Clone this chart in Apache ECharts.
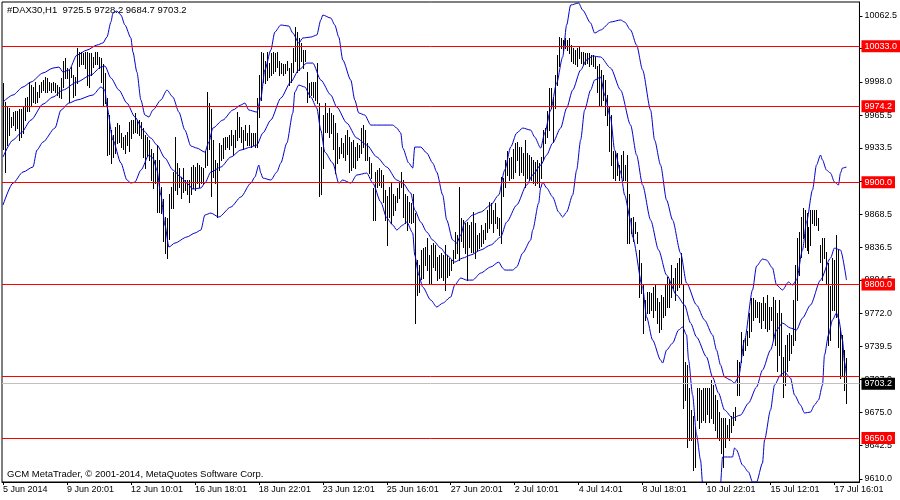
<!DOCTYPE html>
<html>
<head>
<meta charset="utf-8">
<script src="https://cdn.jsdelivr.net/npm/echarts@6/dist/echarts.min.js"></script>
<style>html,body{margin:0;padding:0;background:#fff}#c{width:900px;height:500px}</style>
</head>
<body>
<div id="c"></div>
<script>
// ---- header / quote ----
const symbolTitle = '#DAX30,H1';
const lastOHLC = [9725.5, 9728.2, 9684.7, 9703.2];
const credit = 'GCM MetaTrader, \u00a9 2001-2014, MetaQuotes Software Corp.';

// ---- x axis tick labels (bar index -> text) ----
const xTickIdx = [0, 32, 64, 96, 128, 160, 192, 224, 256, 288, 320, 352, 384, 416];
const xTickLabels = ['5 Jun 2014', '9 Jun 20:01', '12 Jun 10:01', '16 Jun 18:01', '18 Jun 22:01', '23 Jun 12:01', '25 Jun 16:01',
  '27 Jun 20:01', '2 Jul 10:01', '4 Jul 14:01', '8 Jul 18:01', '10 Jul 22:01', '15 Jul 12:01', '17 Jul 16:01'];

// ---- y axis tick labels ----
const yTickValues = [9610.0, 9642.5, 9675.0, 9707.0, 9739.5, 9772.0, 9804.5, 9836.5, 9868.5, 9901.0, 9933.5, 9965.5, 9998.0, 10030.5, 10062.5];

// ---- horizontal levels ----
const redLevels = [10033.0, 9974.2, 9900.0, 9800.0, 9650.0];
const redLevelNoLabel = 9710.0;
const bidPrice = 9703.2;

// ---- H1 bars: highs and lows ----
const barHigh = [
9997,9978,9975,9973,9964,9969,9970,9970,9972,9972,
9975,9982,9983,9998,9995,9993,9998,9988,9995,9998,
10000,10003,10002,9998,9997,9998,9997,9995,9993,10002,
10019,10021,10012,10010,10013,10005,10003,10031,10027,10027,
10026,10027,10027,10026,10026,10022,10027,10027,10022,10021,
10016,10007,9982,9966,9951,9946,9954,9958,9956,9948,
9944,9946,9949,9959,9961,9961,9968,9961,9961,9959,
9953,9946,9944,9941,9933,9929,9922,9936,9922,9895,
9884,9866,9865,9889,9895,9910,9944,9919,9914,9905,
9914,9902,9902,9902,9915,9917,9915,9919,9917,9915,
9914,9931,9988,9977,9972,9941,9922,9919,9938,9936,
9943,9944,9944,9946,9951,9946,9951,9969,9964,9954,
9951,9956,9948,9956,9948,9948,9948,9982,10005,10027,
10026,10019,10027,10017,10026,10027,10026,10027,10019,10017,
10016,10016,10019,10012,10017,10031,10052,10047,10041,10036,
10029,10029,10008,9997,9998,9998,9998,10017,9977,9934,
9966,9977,9968,9973,9968,9966,9958,9948,9934,9943,
9938,9946,9951,9944,9939,9941,9934,9938,9936,9953,
9956,9951,9938,9925,9919,9894,9910,9912,9914,9912,
9907,9892,9887,9895,9900,9889,9887,9894,9899,9910,
9902,9889,9887,9881,9880,9889,9870,9824,9819,9834,
9836,9837,9846,9829,9839,9841,9839,9827,9829,9831,
9829,9839,9829,9826,9824,9834,9851,9848,9895,9865,
9863,9860,9861,9858,9861,9871,9860,9848,9850,9858,
9853,9860,9873,9881,9880,9873,9880,9866,9865,9905,
9904,9922,9931,9924,9925,9933,9938,9939,9934,9934,
9929,9941,9929,9927,9925,9922,9920,9922,9919,9925,
9951,9953,9970,9992,9992,9983,10005,10024,10042,10041,
10039,10041,10039,10041,10034,10031,10029,10031,10032,10027,
10027,10026,10026,10026,10024,10024,10022,10014,10016,10010,
10005,10000,9985,9975,9966,9931,9931,9929,9917,9927,
9931,9917,9927,9889,9865,9866,9861,9851,9834,9821,
9801,9785,9793,9793,9792,9798,9801,9787,9783,9790,
9788,9801,9807,9804,9819,9806,9816,9821,9826,9831,
9801,9724,9721,9699,9677,9672,9661,9699,9699,9697,
9699,9699,9699,9699,9707,9702,9692,9687,9675,9670,
9670,9670,9663,9669,9672,9675,9680,9726,9724,9754,
9746,9748,9755,9772,9787,9787,9785,9783,9783,9782,
9788,9782,9790,9778,9778,9788,9785,9772,9785,9772,
9729,9741,9751,9753,9751,9785,9819,9846,9851,9866,
9875,9873,9870,9856,9873,9873,9873,9873,9865,9839,
9846,9846,9832,9821,9799,9826,9824,9848,9834,9758,
9751,9736,9728.2];
const barLow = [
9933,9910,9936,9946,9954,9956,9951,9953,9941,9944,
9948,9961,9970,9970,9975,9978,9977,9978,9983,9988,
9990,9988,9988,9990,9988,9990,9988,9985,9983,9982,
9993,10002,10002,9978,10003,9983,9985,9997,10014,10016,
10016,10012,9995,9993,10005,10013,10016,10016,10012,9998,
9975,9977,9927,9928,9919,9925,9929,9938,9939,9934,
9933,9929,9936,9931,9943,9948,9949,9948,9946,9943,
9925,9914,9926,9922,9902,9894,9899,9871,9871,9870,
9843,9831,9826,9845,9875,9875,9892,9889,9895,9885,
9890,9892,9889,9881,9889,9894,9892,9899,9895,9899,
9899,9915,9917,9933,9887,9905,9899,9866,9912,9922,
9924,9933,9934,9933,9936,9927,9934,9941,9944,9939,
9933,9941,9936,9936,9934,9936,9934,9934,9964,9980,
9998,9997,10000,10003,10005,10007,10009,10013,10005,10007,
10005,10007,10010,9995,9998,10008,10019,10008,10010,10019,
10012,10019,9978,9983,9985,9983,9980,9977,9887,9889,
9914,9949,9949,9944,9948,9933,9909,9919,9924,9929,
9925,9922,9928,9910,9912,9915,9914,9922,9925,9929,
9934,9922,9922,9909,9904,9863,9863,9895,9897,9895,
9881,9863,9839,9866,9860,9868,9873,9881,9885,9895,
9866,9860,9853,9861,9860,9861,9762,9790,9793,9805,
9806,9819,9814,9802,9802,9817,9814,9804,9806,9807,
9804,9795,9807,9809,9814,9821,9826,9831,9824,9843,
9837,9831,9804,9837,9832,9832,9826,9834,9836,9838,
9841,9845,9851,9855,9860,9851,9860,9855,9848,9841,
9887,9895,9907,9902,9904,9904,9910,9922,9907,9910,
9907,9895,9904,9902,9902,9899,9897,9899,9895,9904,
9922,9938,9944,9951,9973,9939,9973,9995,10014,10031,
10029,10031,10029,10026,10019,10017,10016,10014,10021,10017,
10016,10016,10017,10014,10016,10014,10012,9988,9975,9975,
9980,9966,9956,9931,9917,9904,9902,9907,9902,9905,
9902,9902,9841,9841,9850,9843,9850,9841,9788,9792,
9753,9765,9772,9772,9775,9768,9775,9762,9754,9757,
9768,9770,9778,9778,9788,9797,9785,9795,9798,9801,
9679,9687,9641,9648,9648,9619,9622,9668,9660,9666,
9668,9666,9674,9666,9670,9665,9658,9650,9648,9635,
9622,9641,9650,9648,9656,9663,9668,9692,9692,9724,
9731,9736,9741,9749,9755,9765,9768,9768,9763,9758,
9765,9758,9755,9757,9765,9746,9741,9716,9731,9712,
9690,9702,9716,9726,9733,9741,9746,9785,9809,9827,
9846,9837,9834,9831,9839,9860,9858,9858,9853,9822,
9804,9826,9801,9741,9746,9775,9775,9768,9739,9709,
9712,9697,9684.7];

// ---- Bollinger bands as [bar index, price] ----
const bbUpper = [[0,9978.4],[5,9985.3],[10,9993.1],[14,9998.0],[20,10006.8],[25,10011.6],[28,10012.6],[30,10007.7],[33,10009.7],[37,10024.3],[42,10029.2],[47,10034.1],[50,10036.1],[52,10041.9],[54,10056.6],[55,10065.4],[57,10067.3],[59,10063.4],[61,10053.7],[64,10041.0],[65,10027.3],[67,10007.7],[69,9980.4],[71,9965.7],[73,9963.8],[75,9970.6],[79,9980.4],[82,9990.1],[85,9983.3],[88,9968.6],[91,9951.0],[94,9935.4],[97,9933.4],[101,9929.5],[103,9939.3],[105,9953.0],[110,9960.8],[115,9970.6],[119,9975.5],[121,9977.4],[123,9970.6],[127,9968.6],[129,9982.3],[131,10009.7],[134,10029.2],[136,10046.8],[139,10053.7],[143,10052.7],[145,10045.8],[148,10036.1],[150,10041.0],[154,10041.9],[157,10043.9],[159,10058.6],[160,10063.4],[164,10060.5],[166,10053.7],[168,10041.9],[170,10019.5],[174,9999.9],[176,9980.4],[178,9967.7],[181,9965.7],[184,9955.9],[190,9955.9],[195,9955.9],[197,9953.0],[199,9948.1],[200,9933.4],[203,9918.8],[205,9913.9],[206,9934.4],[209,9934.4],[212,9928.6],[215,9918.8],[217,9910.0],[220,9887.5],[222,9863.1],[225,9843.5],[227,9840.6],[229,9848.4],[231,9861.1],[235,9868.0],[239,9870.9],[244,9877.7],[248,9887.5],[251,9911.9],[254,9934.4],[257,9948.1],[260,9953.0],[264,9951.0],[266,9944.2],[269,9933.4],[271,9948.1],[274,9970.6],[277,9997.0],[280,10022.4],[282,10053.7],[284,10073.2],[288,10075.2],[290,10068.3],[294,10055.6],[296,10045.8],[299,10048.8],[304,10056.6],[309,10058.6],[311,10056.6],[314,10048.8],[317,10034.1],[320,10009.7],[324,9970.6],[326,9941.3],[329,9916.8],[332,9882.6],[335,9863.1],[339,9830.8],[342,9801.5],[347,9780.0],[351,9765.4],[355,9750.7],[357,9736.0],[359,9721.4],[361,9709.6],[364,9706.7],[366,9703.8],[368,9709.6],[371,9745.8],[375,9794.7],[377,9818.1],[380,9825.0],[382,9824.0],[385,9816.2],[387,9799.6],[390,9794.7],[393,9802.5],[395,9799.6],[397,9804.4],[400,9833.8],[402,9861.1],[405,9892.4],[407,9916.8],[409,9926.6],[410,9921.7],[412,9911.9],[414,9909.0],[416,9900.2],[418,9897.3],[419,9909.0],[420,9913.9],[422,9914.9]];
const bbMiddle = [[0,9924.7],[5,9941.3],[9,9948.1],[14,9960.8],[20,9976.4],[25,9983.3],[30,9990.1],[37,9998.0],[44,10004.8],[49,10012.6],[51,10013.6],[54,10001.9],[58,9990.1],[62,9977.4],[66,9963.8],[70,9951.0],[74,9943.2],[77,9936.4],[81,9923.7],[85,9911.9],[89,9905.1],[92,9899.2],[95,9893.4],[99,9894.4],[101,9899.2],[104,9910.0],[109,9914.9],[114,9924.7],[119,9931.5],[124,9934.4],[127,9936.4],[130,9948.1],[134,9960.8],[139,9982.3],[144,9998.0],[148,10009.7],[152,10016.5],[155,10016.5],[159,9999.9],[164,9985.3],[167,9973.5],[172,9957.9],[177,9943.2],[182,9936.4],[187,9924.7],[192,9914.9],[197,9902.2],[200,9899.2],[204,9889.5],[206,9872.9],[209,9861.1],[212,9851.4],[215,9843.5],[219,9835.7],[222,9828.9],[226,9822.0],[230,9825.9],[234,9828.9],[239,9833.8],[244,9838.7],[249,9846.5],[252,9861.1],[257,9877.7],[262,9897.3],[265,9907.1],[269,9916.8],[272,9926.6],[275,9938.3],[279,9953.0],[282,9972.5],[285,9990.1],[289,10009.7],[292,10019.5],[295,10023.4],[299,10022.4],[304,10011.6],[309,9990.1],[314,9955.9],[317,9926.6],[320,9897.3],[324,9863.1],[328,9833.8],[332,9809.3],[337,9789.8],[341,9780.0],[344,9762.4],[347,9748.7],[352,9729.2],[355,9709.6],[358,9694.0],[361,9677.4],[365,9669.6],[369,9672.5],[373,9684.2],[377,9699.9],[380,9716.5],[384,9736.0],[387,9755.6],[390,9762.4],[394,9757.5],[397,9755.6],[400,9767.3],[404,9780.0],[409,9804.4],[414,9825.9],[416,9835.7],[419,9833.8],[422,9804.4]];
const bbLower = [[0,9877.7],[5,9899.2],[10,9910.0],[15,9914.9],[17,9931.5],[20,9939.3],[26,9953.0],[29,9970.6],[33,9977.4],[37,9980.4],[45,9985.3],[49,9993.1],[51,9990.1],[52,9973.5],[55,9941.3],[59,9918.8],[62,9902.2],[64,9899.2],[66,9900.2],[69,9911.9],[73,9926.6],[75,9923.7],[77,9911.9],[79,9887.5],[81,9858.2],[83,9836.7],[86,9840.6],[92,9846.5],[96,9850.4],[99,9853.3],[101,9868.0],[104,9869.9],[108,9866.0],[114,9875.8],[119,9885.6],[124,9899.2],[126,9905.1],[128,9916.8],[129,9909.0],[130,9904.1],[134,9902.2],[137,9910.0],[139,9918.8],[142,9938.3],[145,9967.7],[146,9988.2],[148,9995.0],[151,9993.1],[154,9983.3],[157,9972.5],[159,9951.0],[161,9929.5],[165,9918.8],[168,9899.2],[170,9902.2],[174,9899.2],[177,9907.1],[182,9909.0],[185,9899.2],[189,9880.7],[192,9865.0],[195,9858.2],[197,9853.3],[200,9858.2],[202,9861.1],[205,9850.4],[206,9828.9],[208,9809.3],[210,9797.6],[214,9784.9],[217,9778.1],[220,9781.9],[224,9787.8],[226,9799.6],[229,9806.4],[232,9804.4],[235,9804.4],[239,9811.3],[244,9817.2],[248,9822.0],[250,9816.2],[251,9814.2],[255,9814.2],[257,9817.2],[260,9830.8],[264,9843.5],[265,9853.3],[268,9879.7],[269,9894.4],[270,9900.2],[272,9894.4],[275,9885.6],[278,9870.9],[280,9866.0],[282,9870.9],[285,9887.5],[287,9911.9],[289,9941.3],[291,9970.6],[294,9990.1],[296,9999.9],[299,10002.8],[301,9985.3],[304,9962.8],[306,9931.5],[309,9910.0],[311,9887.5],[314,9863.1],[315,9846.5],[320,9797.6],[322,9768.3],[325,9745.8],[329,9726.3],[330,9723.3],[332,9736.0],[335,9742.8],[338,9755.6],[340,9758.5],[342,9750.7],[343,9726.3],[345,9692.1],[347,9653.0],[349,9628.5],[350,9606.0],[353,9589.4],[356,9584.5],[358,9594.3],[359,9606.0],[360,9631.5],[365,9631.5],[366,9640.3],[367,9638.3],[370,9623.6],[373,9616.8],[375,9607.0],[377,9607.0],[380,9625.6],[381,9648.1],[384,9677.4],[386,9701.8],[389,9711.6],[391,9714.5],[394,9708.7],[396,9692.1],[399,9682.3],[401,9674.5],[404,9675.4],[406,9682.3],[408,9687.2],[410,9701.8],[411,9731.1],[413,9750.7],[415,9765.4],[417,9772.2],[418,9767.3],[420,9745.8],[421,9724.3],[422,9711.6]];

// ---- build ----
const FONT = '"Liberation Sans", Arial, sans-serif';
const bars = barHigh.map((h, i) => [i, barLow[i], h]);
const BLUE = '#0000CC';

const levelData = redLevels.map(v => ({
  yAxis: v,
  lineStyle: { color: '#FF0000', width: 1, type: 'solid' },
  label: { show: true, position: 'end', distance: 2, formatter: () => v.toFixed(1),
    color: '#fff', backgroundColor: '#FF0000', fontSize: 9, fontFamily: FONT, padding: [2, 3, 1, 3] }
}));
levelData.push({ yAxis: redLevelNoLabel, lineStyle: { color: '#FF0000', width: 1, type: 'solid' }, label: { show: false } });
levelData.push({
  yAxis: bidPrice,
  lineStyle: { color: '#C0C0C0', width: 1, type: 'solid' },
  label: { show: true, position: 'end', distance: 2, formatter: () => bidPrice.toFixed(1),
    color: '#fff', backgroundColor: '#000', fontSize: 9, fontFamily: FONT, padding: [2, 3, 1, 3] }
});

const bandSeries = (data, extra) => Object.assign({
  type: 'line', data: data, showSymbol: false, symbol: 'none', smooth: 0.25, smoothMonotone: 'x',
  lineStyle: { color: BLUE, width: 1 }, z: 3, silent: true, animation: false
}, extra || {});

const option = {
  animation: false,
  backgroundColor: '#ffffff',
  grid: { left: 2, right: 40, top: 2, bottom: 18, show: true, borderColor: '#000', borderWidth: 1 },
  xAxis: {
    type: 'value', min: -0.5, max: 428.5,
    axisLine: { show: true, lineStyle: { color: '#000', width: 1 } },
    splitLine: { show: false },
    axisTick: { show: true, customValues: xTickIdx, length: 3, lineStyle: { color: '#000' } },
    axisLabel: { customValues: xTickIdx, formatter: v => xTickLabels[xTickIdx.indexOf(Math.round(v))] || '',
      align: 'left', margin: 3, fontSize: 9, fontFamily: FONT, color: '#000', hideOverlap: false }
  },
  yAxis: {
    type: 'value', position: 'right', min: 9607.06, max: 10076.18,
    axisLine: { show: true, onZero: false, lineStyle: { color: '#000', width: 1 } },
    splitLine: { show: false },
    axisTick: { show: true, customValues: yTickValues, length: 3, lineStyle: { color: '#000' } },
    axisLabel: { customValues: yTickValues, formatter: v => Number(v).toFixed(1), margin: 5,
      fontSize: 9, fontFamily: FONT, color: '#000', showMinLabel: true, showMaxLabel: true }
  },
  graphic: [
    { type: 'text', left: 7, top: 5, silent: true,
      style: { text: symbolTitle + '  ' + lastOHLC.map(v => v.toFixed(1)).join(' '), fill: '#000', font: '9.5px ' + FONT } },
    { type: 'text', left: 7, top: 469, silent: true,
      style: { text: credit, fill: '#000', font: '9.5px ' + FONT } }
  ],
  series: [
    {
      type: 'custom', data: bars, z: 2, silent: true, animation: false,
      encode: { x: 0, y: [1, 2] },
      renderItem: function (params, api) {
        const k = api.value(0);
        const top = api.coord([k, api.value(2)]);
        const bot = api.coord([k, api.value(1)]);
        const x = Math.round(top[0]) + 0.5;
        return { type: 'line', shape: { x1: x, y1: Math.round(top[1]), x2: x, y2: Math.round(bot[1]) + 1 },
          style: { stroke: '#000', lineWidth: 1 } };
      }
    },
    bandSeries(bbUpper),
    bandSeries(bbMiddle, {
      markLine: { symbol: 'none', silent: true, animation: false, precision: 1, data: levelData, z: 4 }
    }),
    bandSeries(bbLower)
  ]
};

const chart = echarts.init(document.getElementById('c'), null, { renderer: 'canvas' });
chart.setOption(option);
</script>
</body>
</html>
